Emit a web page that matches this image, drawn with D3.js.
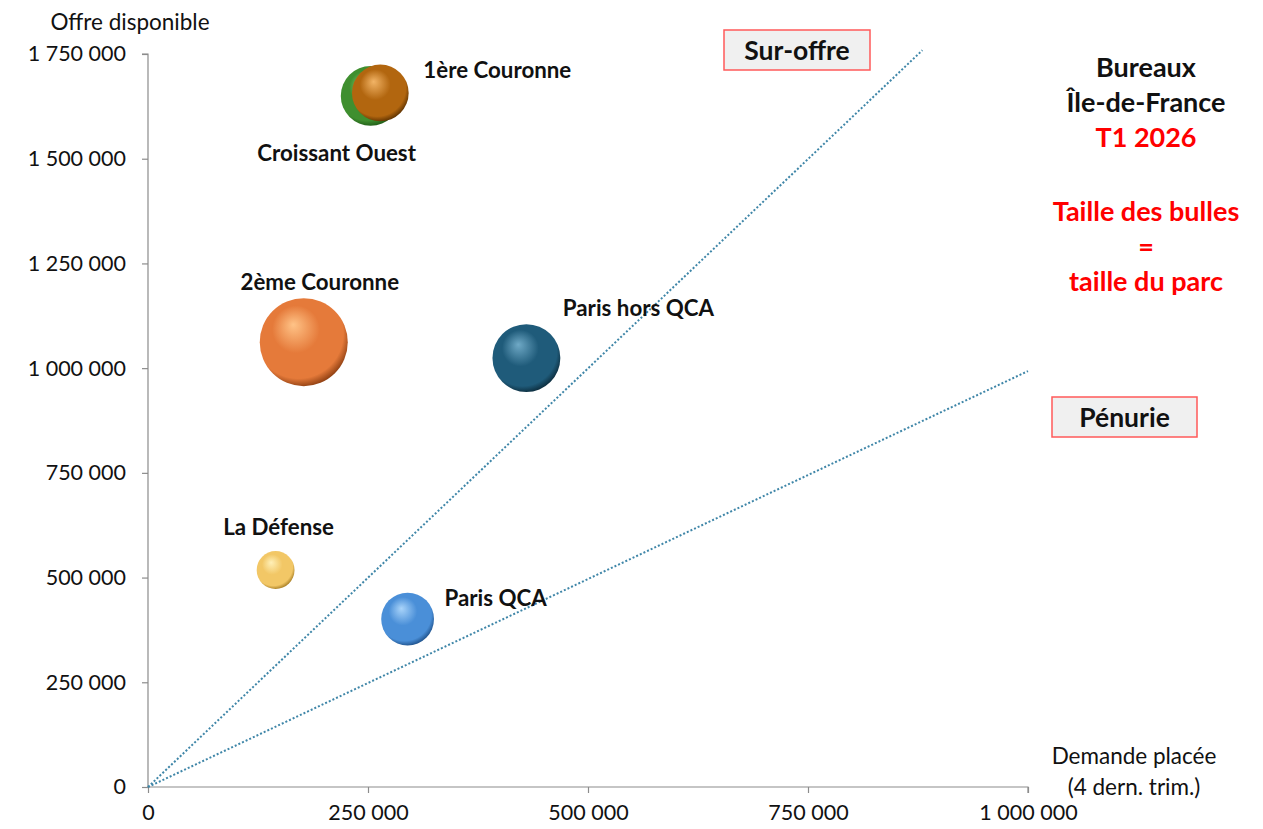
<!DOCTYPE html>
<html>
<head>
<meta charset="utf-8">
<script src="https://cdn.jsdelivr.net/npm/d3@7"></script>
<style>
  body { margin: 0; background: #fff; }
  svg { font-family: Lato, "Open Sans", sans-serif; }
</style>
</head>
<body>
<script>
// données
const zones = ['Croissant Ouest', '1ère Couronne', '2ème Couronne', 'Paris hors QCA', 'La Défense', 'Paris QCA'];
const demande = [253000, 264000, 177000, 430000, 145000, 295000];
const offre = [1650000, 1657000, 1062000, 1024000, 518000, 401000];
const parc = [9.2, 8.3, 20, 11.9, 3.7, 7.2];
const xTicks = [0, 250000, 500000, 750000, 1000000];
const yTicks = [0, 250000, 500000, 750000, 1000000, 1250000, 1500000, 1750000];
// droites de repère : [x, y] de fin depuis l'origine
const ratioLines = [[880000, 1759000], [1000000, 993000]];

const width = 1263;
const height = 829;

const colors = {
  'Croissant Ouest': ['#8fd07a', '#3f8f2f', '#1f5a16'],
  '1ère Couronne': ['#f2b466', '#b2660f', '#5a3000'],
  '2ème Couronne': ['#ffc387', '#e57a3a', '#8a3c10'],
  'Paris hors QCA': ['#6fa9c6', '#1f5b7a', '#0b2a3a'],
  'La Défense': ['#fff0b8', '#f2c766', '#a47a20'],
  'Paris QCA': ['#a9d4fa', '#4a8fd8', '#1d4f88']
};
// décalage des étiquettes (px) par rapport au centre de la bulle
const labelOffset = {
  'Croissant Ouest': [-34, 57],
  '1ère Couronne': [117, -23],
  '2ème Couronne': [16, -61],
  'Paris hors QCA': [112, -51],
  'La Défense': [3, -44],
  'Paris QCA': [88, -22]
};

const fr = d3.formatLocale({decimal: ',', thousands: ' ', grouping: [3], currency: ['', ' €']});
const fmt = fr.format(',d');

const svg = d3.select('body')
  .append('svg')
  .attr('width', width)
  .attr('height', height);

const xScale = d3.scaleLinear()
  .domain([0, 1000000])
  .range([148, 1028]);

const yScale = d3.scaleLinear()
  .domain([0, 1750000])
  .range([787, 54]);

const rScale = d3.scaleSqrt()
  .domain([0, 20])
  .range([0, 44]);

const defs = svg.append('defs');
zones.forEach((z, i) => {
  const g = defs.append('radialGradient')
    .attr('id', 'grad' + i)
    .attr('cx', '45%').attr('cy', '42%').attr('r', '60%')
    .attr('fx', '38%').attr('fy', '30%');
  g.append('stop').attr('offset', '0%').attr('stop-color', colors[z][0]);
  g.append('stop').attr('offset', '45%').attr('stop-color', colors[z][1]);
  g.append('stop').attr('offset', '85%').attr('stop-color', colors[z][1]);
  g.append('stop').attr('offset', '100%').attr('stop-color', colors[z][2]);
});

// axes
const xAxis = d3.axisBottom(xScale)
  .tickValues(xTicks)
  .tickFormat(fmt)
  .tickSize(6)
  .tickPadding(12);

const yAxis = d3.axisLeft(yScale)
  .tickValues(yTicks)
  .tickFormat(fmt)
  .tickSize(6)
  .tickPadding(16);

const gx = svg.append('g')
  .attr('transform', 'translate(0,' + yScale(0) + ')')
  .call(xAxis);
gx.select('.domain').attr('d', 'M' + xScale(0) + ',0H' + xScale(1000000) + 'V6');

const gy = svg.append('g')
  .attr('transform', 'translate(' + xScale(0) + ',0)')
  .call(yAxis);
gy.select('.domain').attr('d', 'M-6,' + yScale(1750000) + 'H0V' + yScale(0));

svg.selectAll('.domain, .tick line').attr('stroke', '#8c8c8c').attr('stroke-width', 1.2);
svg.selectAll('.tick text')
  .style('font-size', '21.5px')
  .style('font-family', 'Lato, sans-serif')
  .attr('fill', '#111');

// titres d'axes
svg.append('text')
  .attr('x', 130).attr('y', 21)
  .attr('text-anchor', 'middle')
  .attr('dominant-baseline', 'central')
  .style('font-size', '22.5px')
  .attr('fill', '#111')
  .text('Offre disponible');

svg.append('text')
  .attr('x', 1134).attr('y', 755)
  .attr('text-anchor', 'middle')
  .attr('dominant-baseline', 'central')
  .style('font-size', '22.5px')
  .attr('fill', '#111')
  .text('Demande placée');

svg.append('text')
  .attr('x', 1134).attr('y', 786)
  .attr('text-anchor', 'middle')
  .attr('dominant-baseline', 'central')
  .style('font-size', '22.5px')
  .attr('fill', '#111')
  .text('(4 dern. trim.)');

// droites
svg.selectAll('.ratio')
  .data(ratioLines)
  .enter()
  .append('line')
  .attr('class', 'ratio')
  .attr('x1', xScale(0))
  .attr('y1', yScale(0))
  .attr('x2', d => xScale(d[0]))
  .attr('y2', d => yScale(d[1]))
  .attr('stroke', '#3f86a8')
  .attr('stroke-width', 2)
  .attr('stroke-dasharray', '2,2');

// bulles
svg.selectAll('.bubble')
  .data(zones)
  .enter()
  .append('circle')
  .attr('class', 'bubble')
  .attr('cx', (d, i) => xScale(demande[i]))
  .attr('cy', (d, i) => yScale(offre[i]))
  .attr('r', (d, i) => rScale(parc[i]))
  .attr('fill', (d, i) => 'url(#grad' + i + ')');

svg.selectAll('.label')
  .data(zones)
  .enter()
  .append('text')
  .attr('class', 'label')
  .attr('x', (d, i) => xScale(demande[i]) + labelOffset[d][0])
  .attr('y', (d, i) => yScale(offre[i]) + labelOffset[d][1])
  .attr('text-anchor', 'middle')
  .attr('dominant-baseline', 'central')
  .style('font-size', '22.3px')
  .style('font-weight', 'bold')
  .attr('fill', '#111')
  .text(d => d);

// encadrés
const boxes = [
  {text: 'Sur-offre', x: 724, y: 30, w: 146, h: 40},
  {text: 'Pénurie', x: 1052, y: 397, w: 145, h: 40}
];
boxes.forEach(b => {
  svg.append('rect')
    .attr('x', b.x).attr('y', b.y)
    .attr('width', b.w).attr('height', b.h)
    .attr('fill', '#f0f0f0')
    .attr('stroke', '#ff5a5a')
    .attr('stroke-width', 1.5);
  svg.append('text')
    .attr('x', b.x + b.w / 2).attr('y', b.y + b.h / 2)
    .attr('text-anchor', 'middle')
    .attr('dominant-baseline', 'central')
    .style('font-size', '26.5px')
    .style('font-weight', 'bold')
    .attr('fill', '#111')
    .text(b.text);
});

// légende à droite
const notes = [
  {t: 'Bureaux', y: 66, c: '#111'},
  {t: 'Île-de-France', y: 101, c: '#111'},
  {t: 'T1 2026', y: 136, c: '#ff0000'},
  {t: 'Taille des bulles', y: 210, c: '#ff0000'},
  {t: '=', y: 245, c: '#ff0000'},
  {t: 'taille du parc', y: 280, c: '#ff0000'}
];
svg.selectAll('.note')
  .data(notes)
  .enter()
  .append('text')
  .attr('class', 'note')
  .attr('x', 1146)
  .attr('y', d => d.y)
  .attr('text-anchor', 'middle')
  .attr('dominant-baseline', 'central')
  .style('font-size', '27px')
  .style('font-weight', 'bold')
  .attr('fill', d => d.c)
  .text(d => d.t);
</script>
</body>
</html>
